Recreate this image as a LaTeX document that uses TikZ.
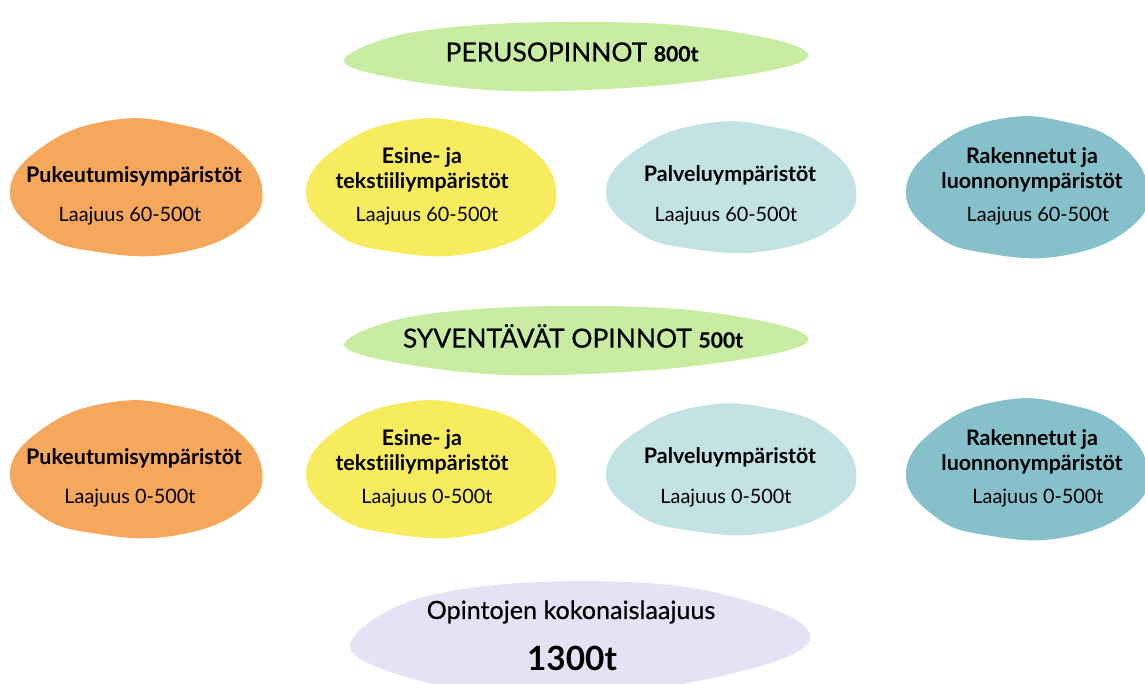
\documentclass[tikz,border=0pt]{standalone}
\usepackage{fontspec}
\setmainfont{Lato}[Ligatures=NoCommon]
\newfontfamily\latokeski{Lato}[FakeBold=0.5, Ligatures=NoCommon]

\definecolor{lehti}{HTML}{C8EDA2}
\definecolor{oranssi}{HTML}{F5A75B}
\definecolor{keltainen}{HTML}{F6EC5E}
\definecolor{vaaleansin}{HTML}{C3E2E4}
\definecolor{turkoosi}{HTML}{86C1CB}
\definecolor{liila}{HTML}{E7E1F6}

% irregular blob: centre x, centre y, radius x, radius y, colour
\newcommand{\laikku}[5]{
    \fill[#5, shift={(#1,#2)}] plot[smooth cycle, tension=0.75] coordinates {
        (-1.0*#3,0.05*#4) (-0.72*#3,-0.62*#4) (-0.2*#3,-0.98*#4) (0.32*#3,-0.93*#4)
        (0.76*#3,-0.62*#4) (1.0*#3,0.02*#4) (0.84*#3,0.6*#4) (0.3*#3,0.98*#4)
        (-0.32*#3,0.95*#4) (-0.76*#3,0.68*#4)};
}
% long banner blob
\newcommand{\nauha}[5]{
    \fill[#5, shift={(#1,#2)}] plot[smooth cycle, tension=0.6] coordinates {
        (-1.0*#3,0.12*#4) (-0.75*#3,-0.6*#4) (-0.25*#3,-0.92*#4) (0.4*#3,-0.88*#4)
        (0.86*#3,-0.45*#4) (1.0*#3,0.02*#4) (0.8*#3,0.45*#4) (0.3*#3,0.85*#4)
        (-0.3*#3,0.97*#4) (-0.78*#3,0.62*#4)};
}
\newcommand{\pisteet}[1]{{\fontsize{12}{13}\selectfont\bfseries #1}}

\begin{document}
\begin{tikzpicture}[x=0.02cm, y=-0.02cm,
        otsikko/.style={font=\fontsize{15}{18}\selectfont\latokeski},
        alue/.style={font=\fontsize{12.2}{14.3}\selectfont\bfseries, align=center},
        laajuus/.style={font=\fontsize{11.3}{13}\selectfont}]
    \useasboundingbox (0,0) rectangle (1145,683);
    \clip (0,0) rectangle (1145,683);

    % banners
    \nauha{576}{56}{232}{36}{lehti}
    \nauha{576}{340}{232}{36}{lehti}
    \nauha{580}{638}{230}{60}{liila}

    \node[otsikko] (perus) at (572,52) {PERUSOPINNOT \pisteet{800t}};
    \node[otsikko] (syv) at (573,336) {SYVENTÄVÄT OPINNOT \pisteet{500t}};
    \node[font=\fontsize{14.3}{17}\selectfont\latokeski] (koko) at (571,612) {Opintojen kokonaislaajuus};
    \node[font=\fontsize{19}{21}\selectfont\bfseries] (tunnit) at (572,658) {1300t};

    % two rows of study areas
    \foreach \rivi/\dy/\ala in {1/0/60, 2/282/0} {
        \foreach \x/\tx/\ty/\sx/\rx/\ry/\vari/\nimi [count=\i] in {
                136/134/176/130/126/68/oranssi/{Pukeutumisympäristöt},
                431/422/170/427/125/68/keltainen/{Esine- ja\\tekstiiliympäristöt},
                731/730/175/726/125/65/vaaleansin/{Palveluympäristöt},
                1027/1032/170/1038/121/70/turkoosi/{Rakennetut ja\\luonnonympäristöt}} {
            \laikku{\x}{187+\dy}{\rx}{\ry}{\vari}
            \node[alue] (a\rivi\i) at (\tx,\ty+\dy) {\nimi};
            \node[laajuus] (l\rivi\i) at (\sx,216+\dy) {Laajuus \ala-500t};
        }
    }
\end{tikzpicture}
\end{document}
